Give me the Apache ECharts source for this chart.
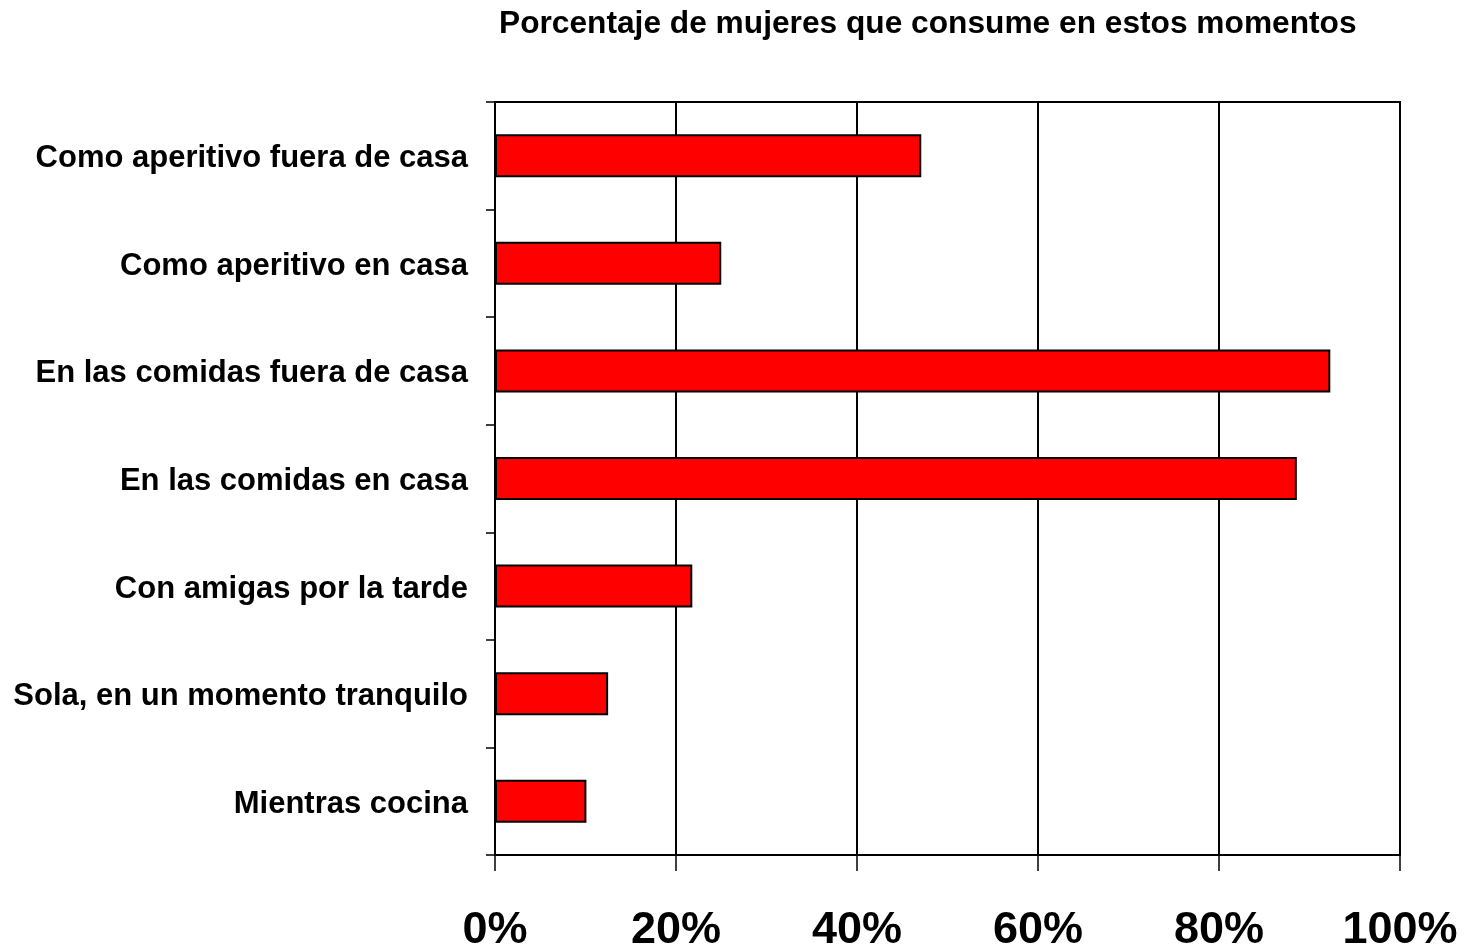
<!DOCTYPE html>
<html>
<head>
<meta charset="utf-8">
<style>
  html, body { margin: 0; padding: 0; background: #fff; }
  #chart { width: 1468px; height: 948px; }
</style>
<script src="https://cdn.jsdelivr.net/npm/echarts@6/dist/echarts.min.js"></script>
</head>
<body>
<div id="chart"></div>
<script>
// Momentos de consumo (categorías, de arriba abajo)
const categories = [
  'Como aperitivo fuera de casa',
  'Como aperitivo en casa',
  'En las comidas fuera de casa',
  'En las comidas en casa',
  'Con amigas por la tarde',
  'Sola, en un momento tranquilo',
  'Mientras cocina'
];
// Porcentaje de mujeres que consume en cada momento
const percentages = [47.1, 25.0, 92.3, 88.6, 21.8, 12.5, 10.1];
// Marcas del eje de valores
const xTicks = [0, 20, 40, 60, 80, 100];

const FONT = '"Liberation Sans", Arial, Helvetica, sans-serif';

const chart = echarts.init(document.getElementById('chart'), null, { renderer: 'canvas' });

chart.setOption({
  animation: false,
  backgroundColor: '#ffffff',
  title: {
    text: 'Porcentaje de mujeres que consume en estos momentos',
    left: 494,
    top: 3,
    textStyle: { fontFamily: FONT, fontWeight: 'bold', fontSize: 31.7, color: '#000' }
  },
  grid: {
    left: 495, right: 68, top: 102, bottom: 93,
    outerBoundsMode: 'none',
    containLabel: false,
    show: true, borderColor: '#000', borderWidth: 2, backgroundColor: 'transparent'
  },
  xAxis: {
    type: 'value',
    min: xTicks[0],
    max: xTicks[xTicks.length - 1],
    interval: xTicks[1] - xTicks[0],
    axisLine: { show: true, lineStyle: { color: '#000', width: 2 } },
    axisTick: { show: true, length: 16, lineStyle: { color: '#000', width: 1.5 } },
    splitLine: { show: true, lineStyle: { color: '#000', width: 2 } },
    axisLabel: {
      formatter: v => v + '%',
      margin: 53,
      fontFamily: FONT, fontWeight: 'bold', fontSize: 45, color: '#000'
    }
  },
  yAxis: {
    type: 'category',
    data: categories,
    inverse: true,
    axisLine: { show: true, lineStyle: { color: '#000', width: 2 } },
    axisTick: { show: true, length: 9, alignWithLabel: false, lineStyle: { color: '#000', width: 1.5 } },
    axisLabel: {
      margin: 27,
      formatter: v => '{c|' + v + '}',
      rich: {
        c: {
          padding: [6, 0, 0, 0],
          fontFamily: FONT, fontWeight: 'bold', fontSize: 31, color: '#000'
        }
      },
      fontFamily: FONT, fontWeight: 'bold', fontSize: 31, color: '#000'
    }
  },
  series: [{
    type: 'bar',
    data: percentages,
    barCategoryGap: '60%',
    itemStyle: { color: '#ff0000', borderColor: '#000', borderWidth: 2 }
  }]
});
</script>
</body>
</html>
